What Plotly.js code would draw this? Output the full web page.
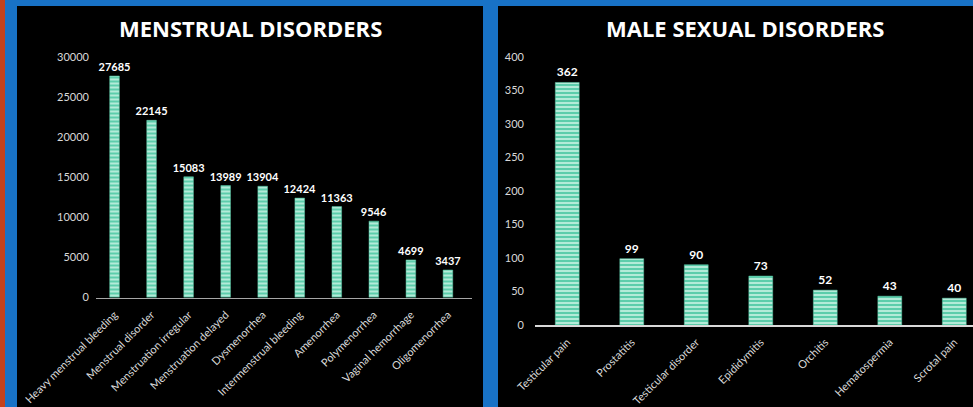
<!DOCTYPE html>
<html>
<head>
<meta charset="utf-8">
<script src="https://cdn.plot.ly/plotly-3.0.1.min.js"></script>
<style>html,body{margin:0;padding:0;background:#000;}#chart{width:973px;height:407px;}</style>
</head>
<body>
<div id="chart"></div>
<script>
const menstrualCategories = ["Heavy menstrual bleeding","Menstrual disorder","Menstruation irregular","Menstruation delayed","Dysmenorrhea","Intermenstrual bleeding","Amenorrhea","Polymenorrhea","Vaginal hemorrhage","Oligomenorrhea"];
const menstrualValues = [27685,22145,15083,13989,13904,12424,11363,9546,4699,3437];
const maleCategories = ["Testicular pain","Prostatitis","Testicular disorder","Epididymitis","Orchitis","Hematospermia","Scrotal pain"];
const maleValues = [362,99,90,73,52,43,40];
const leftTitle = "MENSTRUAL DISORDERS";
const rightTitle = "MALE SEXUAL DISORDERS";
const menstrualTicks = [0,5000,10000,15000,20000,25000,30000];
const maleTicks = [0,50,100,150,200,250,300,350,400];

const W = 973, H = 407;
const fx = p => p / W;
const fy = p => (H - p) / H;

const FONT = "Lato, 'Open Sans', sans-serif";
const barPattern = {shape: '-', bgcolor: '#5ccdab', fgcolor: '#c9f3e4', size: 4, solidity: 0.4};

const traces = [
  {
    type: 'bar', x: menstrualCategories, y: menstrualValues, xaxis: 'x', yaxis: 'y',
    width: 0.26,
    marker: {color: '#5ccdab', pattern: barPattern, line: {color: '#5ccdab', width: 0.5}},
    text: menstrualValues.map(String), textposition: 'outside', cliponaxis: false,
    constraintext: 'none',
    textfont: {family: FONT, size: 11, color: '#ffffff', weight: 'bold'},
    outsidetextfont: {family: FONT, size: 11, color: '#ffffff', weight: 'bold'},
    hoverinfo: 'x+y', showlegend: false
  },
  {
    type: 'bar', x: maleCategories, y: maleValues, xaxis: 'x2', yaxis: 'y2',
    width: 0.37,
    marker: {color: '#5ccdab', pattern: barPattern, line: {color: '#5ccdab', width: 0.5}},
    text: maleValues.map(String), textposition: 'outside', cliponaxis: false,
    constraintext: 'none',
    textfont: {family: FONT, size: 12, color: '#ffffff', weight: 'bold'},
    outsidetextfont: {family: FONT, size: 12, color: '#ffffff', weight: 'bold'},
    hoverinfo: 'x+y', showlegend: false
  }
];

const axisCommon = {
  showgrid: false, zeroline: false, fixedrange: true,
  tickfont: {family: FONT, size: 11, color: '#d9d9d9'}
};

const layout = {
  width: W, height: H,
  margin: {l: 0, r: 0, t: 0, b: 0},
  paper_bgcolor: '#000000', plot_bgcolor: '#000000',
  font: {family: FONT, color: '#ffffff'},
  barmode: 'group',
  xaxis: Object.assign({}, axisCommon, {
    domain: [fx(96), fx(472)], anchor: 'y', type: 'category',
    range: [-0.5, 9.65], tickangle: -45, ticks: '', ticklabelstandoff: 5,
    showline: true, linecolor: '#a6a6a6', linewidth: 1.5
  }),
  yaxis: Object.assign({}, axisCommon, {
    domain: [fy(297.5), fy(57.5)], anchor: 'x', range: [0, 30000],
    tickvals: menstrualTicks, ticktext: menstrualTicks.map(String),
    showline: false, ticks: '', ticklabelstandoff: 6
  }),
  xaxis2: Object.assign({}, axisCommon, {
    domain: [fx(535), 1], anchor: 'y2', type: 'category',
    range: [-0.5, 6.29], tickangle: -45, ticks: '', ticklabelstandoff: 5,
    showline: true, linecolor: '#d9d9d9', linewidth: 1.5
  }),
  yaxis2: Object.assign({}, axisCommon, {
    domain: [fy(325), fy(57)], anchor: 'x2', range: [0, 400],
    tickvals: maleTicks, ticktext: maleTicks.map(String),
    showline: false, ticks: '', ticklabelstandoff: 10
  }),
  annotations: [
    {text: '<b>' + leftTitle + '</b>', xref: 'paper', yref: 'paper', x: fx(250), y: fy(28),
     xanchor: 'center', yanchor: 'middle', showarrow: false,
     font: {family: "'Open Sans', Lato, sans-serif", size: 22, color: '#ffffff'}},
    {text: '<b>' + rightTitle + '</b>', xref: 'paper', yref: 'paper', x: fx(745), y: fy(28),
     xanchor: 'center', yanchor: 'middle', showarrow: false,
     font: {family: "'Open Sans', Lato, sans-serif", size: 22, color: '#ffffff'}}
  ],
  shapes: [
    {type: 'rect', xref: 'paper', yref: 'paper', x0: 0, x1: fx(5), y0: 0, y1: 1, fillcolor: '#c4421c', line: {width: 0}, layer: 'below'},
    {type: 'rect', xref: 'paper', yref: 'paper', x0: fx(5), x1: fx(17), y0: 0, y1: 1, fillcolor: '#1872c6', line: {width: 0}, layer: 'below'},
    {type: 'rect', xref: 'paper', yref: 'paper', x0: fx(5), x1: 1, y0: fy(6), y1: 1, fillcolor: '#1872c6', line: {width: 0}, layer: 'below'},
    {type: 'rect', xref: 'paper', yref: 'paper', x0: fx(483), x1: fx(498), y0: 0, y1: 1, fillcolor: '#1872c6', line: {width: 0}, layer: 'below'}
  ]
};

Plotly.newPlot('chart', traces, layout, {displayModeBar: false, staticPlot: true});
</script>
</body>
</html>
